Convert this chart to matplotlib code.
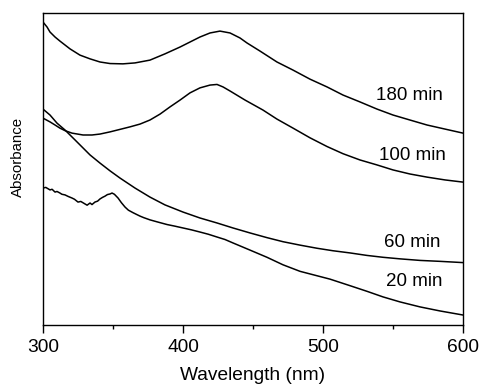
import matplotlib
matplotlib.use("Agg")
import matplotlib.pyplot as plt
from matplotlib.ticker import MultipleLocator

plt.rcParams["font.family"] = ["Liberation Sans", "DejaVu Sans"]

# spectra (absorbance in arbitrary units)
wl_180 = [300.0, 302.9, 305.0, 308.6, 312.1, 319.3, 326.4, 333.6, 340.7, 347.9, 357.1,
          365.7, 376.4, 387.1, 397.9, 405.0, 412.1, 419.3, 426.4, 433.6, 440.7, 445.7,
          455.0, 467.1, 478.6, 490.7, 502.9, 514.3, 526.4, 538.6, 550.0, 562.1, 574.3,
          587.1, 600.0]
abs_180 = [0.971, 0.955, 0.939, 0.923, 0.910, 0.885, 0.865, 0.853, 0.843, 0.838, 0.837,
           0.840, 0.849, 0.869, 0.891, 0.907, 0.923, 0.936, 0.942, 0.936, 0.920, 0.904,
           0.878, 0.843, 0.817, 0.788, 0.763, 0.737, 0.715, 0.692, 0.673, 0.657, 0.641,
           0.628, 0.615]

wl_100 = [300.0, 305.0, 308.6, 312.1, 315.7, 320.7, 328.6, 335.0, 340.7, 347.9, 355.0,
          362.1, 369.3, 376.4, 383.6, 390.7, 397.9, 405.0, 412.1, 419.3, 424.3, 428.6,
          433.6, 444.3, 457.1, 467.1, 478.6, 490.7, 502.9, 514.3, 526.4, 538.6, 550.0,
          562.1, 574.3, 587.1, 600.0]
abs_100 = [0.663, 0.651, 0.641, 0.631, 0.623, 0.615, 0.609, 0.609, 0.612, 0.619, 0.627,
           0.635, 0.644, 0.657, 0.676, 0.699, 0.721, 0.744, 0.760, 0.769, 0.771, 0.763,
           0.750, 0.721, 0.689, 0.660, 0.631, 0.600, 0.572, 0.549, 0.529, 0.513, 0.497,
           0.484, 0.474, 0.465, 0.458]

wl_60 = [300.0, 305.0, 310.0, 315.7, 322.9, 333.6, 340.7, 347.9, 355.0, 365.7, 376.4,
         387.1, 400.0, 412.1, 424.3, 435.7, 447.9, 460.0, 471.4, 483.6, 495.7, 507.1,
         519.3, 531.4, 542.9, 555.0, 569.3, 583.6, 600.0]
abs_60 = [0.692, 0.673, 0.647, 0.625, 0.593, 0.545, 0.519, 0.494, 0.471, 0.439, 0.410,
          0.385, 0.362, 0.343, 0.327, 0.311, 0.295, 0.280, 0.267, 0.256, 0.246, 0.238,
          0.231, 0.223, 0.217, 0.212, 0.207, 0.204, 0.200]

wl_20 = [300, 302, 305, 306.5, 308.6, 310, 312.1, 313.5, 315.7, 318, 320.7, 322.5, 325,
         327, 330, 331.5, 333.6, 335, 337.1, 339, 340.7, 342.5, 344.3, 346, 347.9, 349.3,
         351, 353.6, 356, 358.6, 361, 364.3, 367, 369.3, 372, 376.4, 382, 388.6, 394,
         400.0, 406, 412.1, 418, 424.3, 430, 435.7, 447.9, 460.0, 471.4, 483.6, 505.0,
         519.3, 531.4, 542.9, 555.0, 569.3, 583.6, 600.0]
abs_20 = [0.439, 0.441, 0.433, 0.435, 0.426, 0.428, 0.423, 0.419, 0.417, 0.412, 0.407,
          0.403, 0.394, 0.396, 0.388, 0.384, 0.391, 0.386, 0.394, 0.397, 0.404, 0.409,
          0.413, 0.418, 0.420, 0.423, 0.419, 0.407, 0.392, 0.378, 0.368, 0.360, 0.354,
          0.349, 0.344, 0.337, 0.330, 0.322, 0.317, 0.311, 0.305, 0.298, 0.291, 0.282,
          0.274, 0.263, 0.240, 0.217, 0.193, 0.172, 0.147, 0.126, 0.108, 0.090, 0.074,
          0.058, 0.045, 0.032]

series = [
    (wl_180, abs_180, "180 min", 562, 0.737),
    (wl_100, abs_100, "100 min", 564, 0.542),
    (wl_60, abs_60, "60 min", 564, 0.263),
    (wl_20, abs_20, "20 min", 565, 0.138),
]

fig = plt.figure(figsize=(4.81, 3.84), dpi=100)
ax = fig.add_axes([43 / 481, 59 / 384, 420 / 481, 312 / 384])

for wl, ab, label, lx, ly in series:
    ax.plot(wl, ab, color="black", lw=1.1)
    ax.text(lx, ly, label, fontsize=13.5, ha="center", va="center")

ax.set_xlim(300, 600)
ax.set_ylim(0, 1)
ax.xaxis.set_major_locator(MultipleLocator(100))
ax.xaxis.set_minor_locator(MultipleLocator(50))
ax.set_yticks([])
ax.tick_params(axis="x", which="major", direction="out", length=6, width=1,
               labelsize=13.8, pad=4)
ax.tick_params(axis="x", which="minor", direction="out", length=3, width=1)
for sp in ax.spines.values():
    sp.set_linewidth(1.0)

ax.set_xlabel("Wavelength (nm)", fontsize=13.8)
ax.xaxis.set_label_coords(0.5, -0.136)
ax.set_ylabel("Absorbance", fontsize=10.8)
ax.yaxis.set_label_coords(-0.043, 0.538)

fig.savefig("out.png", dpi=100)
